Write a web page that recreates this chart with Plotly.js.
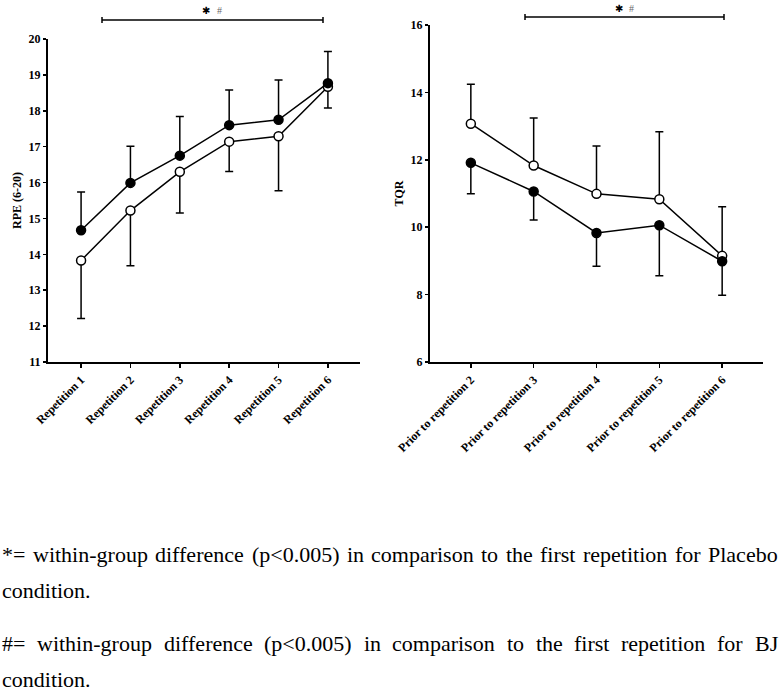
<!DOCTYPE html>
<html><head><meta charset="utf-8">
<script src="https://cdn.plot.ly/plotly-3.0.1.min.js"></script>
<style>body{margin:0;background:#fff}</style>
</head><body><div id="chart" style="width:782px;height:691px"></div>
<script>
// ---- data ----
const rpeCategories = ['Repetition 1','Repetition 2','Repetition 3','Repetition 4','Repetition 5','Repetition 6'];
const rpeFilled      = [14.67, 15.99, 16.75, 17.60, 17.75, 18.77];
const rpeFilledUpper = [15.74, 17.01, 17.84, 18.58, 18.86, 19.65];
const rpeOpen        = [13.83, 15.22, 16.30, 17.14, 17.29, 18.67];
const rpeOpenLower   = [12.21, 13.68, 15.15, 16.31, 15.77, 18.08];
const rpeTicks = [11,12,13,14,15,16,17,18,19,20];

const tqrCategories = ['Prior to repetition 2','Prior to repetition 3','Prior to repetition 4','Prior to repetition 5','Prior to repetition 6'];
const tqrOpen        = [13.07, 11.83, 10.99, 10.83, 9.15];
const tqrOpenUpper   = [14.24, 13.24, 12.41, 12.83, 10.61];
const tqrFilled      = [11.91, 11.06, 9.83, 10.06, 8.99];
const tqrFilledLower = [10.99, 10.21, 8.84, 8.56, 7.98];
const tqrTicks = [6,8,10,12,14,16];

const sigStar = '✱';
const sigHash = '#';
const captionLines = [
  {text: '*= within-group difference (p<0.005) in comparison to the first repetition for Placebo', justify: true},
  {text: 'condition.', justify: false},
  {text: '#= within-group difference (p<0.005) in comparison to the first repetition for BJ', justify: true},
  {text: 'condition.', justify: false}
];

// ---- layout helpers ----
const W = 782, H = 691;
const px = x => x / W;
const py = y => 1 - y / H;
const serif = 'Liberation Serif, Times New Roman, serif';

function diff(a, b) { return a.map((v, i) => Math.abs(v - b[i])); }
function zeros(a) { return a.map(() => 0); }

const filledMarker = {symbol: 'circle', size: 9, color: '#000', line: {color: '#000', width: 1.5}};
const openMarker = {symbol: 'circle', size: 9, color: '#fff', line: {color: '#000', width: 1.5}};
const lineStyle = {color: '#000', width: 1.5};
function err(plus, minus) {
  return {type: 'data', symmetric: false, array: plus, arrayminus: minus, color: '#000', thickness: 1.5, width: 4};
}

const traces = [
  {x: rpeCategories, y: rpeOpen, xaxis: 'x', yaxis: 'y', mode: 'lines+markers', name: 'BJ', marker: openMarker, line: lineStyle,
   error_y: err(zeros(rpeOpen), diff(rpeOpen, rpeOpenLower)), cliponaxis: false},
  {x: rpeCategories, y: rpeFilled, xaxis: 'x', yaxis: 'y', mode: 'lines+markers', name: 'Placebo', marker: filledMarker, line: lineStyle,
   error_y: err(diff(rpeFilledUpper, rpeFilled), zeros(rpeFilled)), cliponaxis: false},
  {x: tqrCategories, y: tqrOpen, xaxis: 'x2', yaxis: 'y2', mode: 'lines+markers', name: 'BJ', marker: openMarker, line: lineStyle,
   error_y: err(diff(tqrOpenUpper, tqrOpen), zeros(tqrOpen)), cliponaxis: false},
  {x: tqrCategories, y: tqrFilled, xaxis: 'x2', yaxis: 'y2', mode: 'lines+markers', name: 'Placebo', marker: filledMarker, line: lineStyle,
   error_y: err(zeros(tqrFilled), diff(tqrFilled, tqrFilledLower)), cliponaxis: false}
];

const tickFont = {family: serif, size: 12, color: '#000', weight: 'bold'};
function xAxis(dom, range, anchor) {
  return {domain: dom, range: range, anchor: anchor, type: 'category', showline: true, linewidth: 2, linecolor: '#000',
    ticks: 'outside', ticklen: 4, tickwidth: 1.5, tickcolor: '#000', tickangle: -45, tickfont: tickFont,
    showgrid: false, zeroline: false, fixedrange: true};
}
function yAxis(dom, range, ticks, title, anchor) {
  return {domain: dom, range: range, anchor: anchor, tickvals: ticks, showline: true, linewidth: 2, linecolor: '#000',
    ticks: 'outside', ticklen: 3, tickwidth: 1.5, tickcolor: '#000', tickfont: tickFont,
    title: {text: title, font: {family: serif, size: 12, color: '#000', weight: 'bold'}, standoff: 4},
    showgrid: false, zeroline: false, fixedrange: true};
}

const shapes = [];
function sigBar(x0, x1, y) {
  const s = {type: 'line', xref: 'paper', yref: 'paper', line: {color: '#000', width: 1.5}};
  shapes.push(Object.assign({}, s, {x0: px(x0), x1: px(x1), y0: py(y), y1: py(y)}));
  shapes.push(Object.assign({}, s, {x0: px(x0), x1: px(x0), y0: py(y - 3), y1: py(y + 3)}));
  shapes.push(Object.assign({}, s, {x0: px(x1), x1: px(x1), y0: py(y - 3), y1: py(y + 3)}));
}
sigBar(102, 323, 20);
sigBar(525, 724, 17);

const annotations = [];
function sigMark(xs, xh, y) {
  annotations.push({xref: 'paper', yref: 'paper', x: px(xs), y: py(y), xanchor: 'center', yanchor: 'middle', text: sigStar,
    showarrow: false, borderpad: 0, font: {family: 'DejaVu Sans', size: 10, color: '#000'}});
  annotations.push({xref: 'paper', yref: 'paper', x: px(xh), y: py(y), xanchor: 'center', yanchor: 'middle', text: sigHash,
    showarrow: false, borderpad: 0, font: {family: serif, size: 10, color: '#666'}});
}
sigMark(206, 219, 10);
sigMark(619, 631, 8);

// caption, justified like the source text block
const capSize = 22;
const canvas = document.createElement('canvas');
const ctx = canvas.getContext('2d');
ctx.font = capSize + "px 'Liberation Serif'";
const capY = [554, 590, 643, 679];
captionLines.forEach((ln, li) => {
  const words = ln.text.split(' ');
  const widths = words.map(w => ctx.measureText(w).width);
  const total = widths.reduce((a, b) => a + b, 0);
  const left = 2, right = 778;
  const gap = ln.justify && words.length > 1 ? (right - left - total) / (words.length - 1) : ctx.measureText(' ').width;
  let x = left;
  words.forEach((w, i) => {
    annotations.push({xref: 'paper', yref: 'paper', x: px(x), y: py(capY[li]), xanchor: 'left', yanchor: 'middle',
      text: w.replace(/</g, '&lt;'), showarrow: false, borderpad: 0, borderwidth: 0,
      font: {family: serif, size: capSize, color: '#000'}});
    x += widths[i] + gap;
  });
});

const layout = {
  width: W, height: H, autosize: false, margin: {l: 0, r: 0, t: 0, b: 0},
  paper_bgcolor: '#fff', plot_bgcolor: '#fff', showlegend: false,
  xaxis: xAxis([px(48), px(360)], [-0.67, 5.65], 'y'),
  yaxis: yAxis([py(362), py(39)], [11, 20], rpeTicks, 'RPE (6-20)', 'x'),
  xaxis2: xAxis([px(430), px(763)], [-0.65, 4.65], 'y2'),
  yaxis2: yAxis([py(362), py(25)], [6, 16], tqrTicks, 'TQR', 'x2'),
  shapes: shapes, annotations: annotations
};

Plotly.newPlot('chart', traces, layout, {staticPlot: true, displayModeBar: false});
</script></body></html>
